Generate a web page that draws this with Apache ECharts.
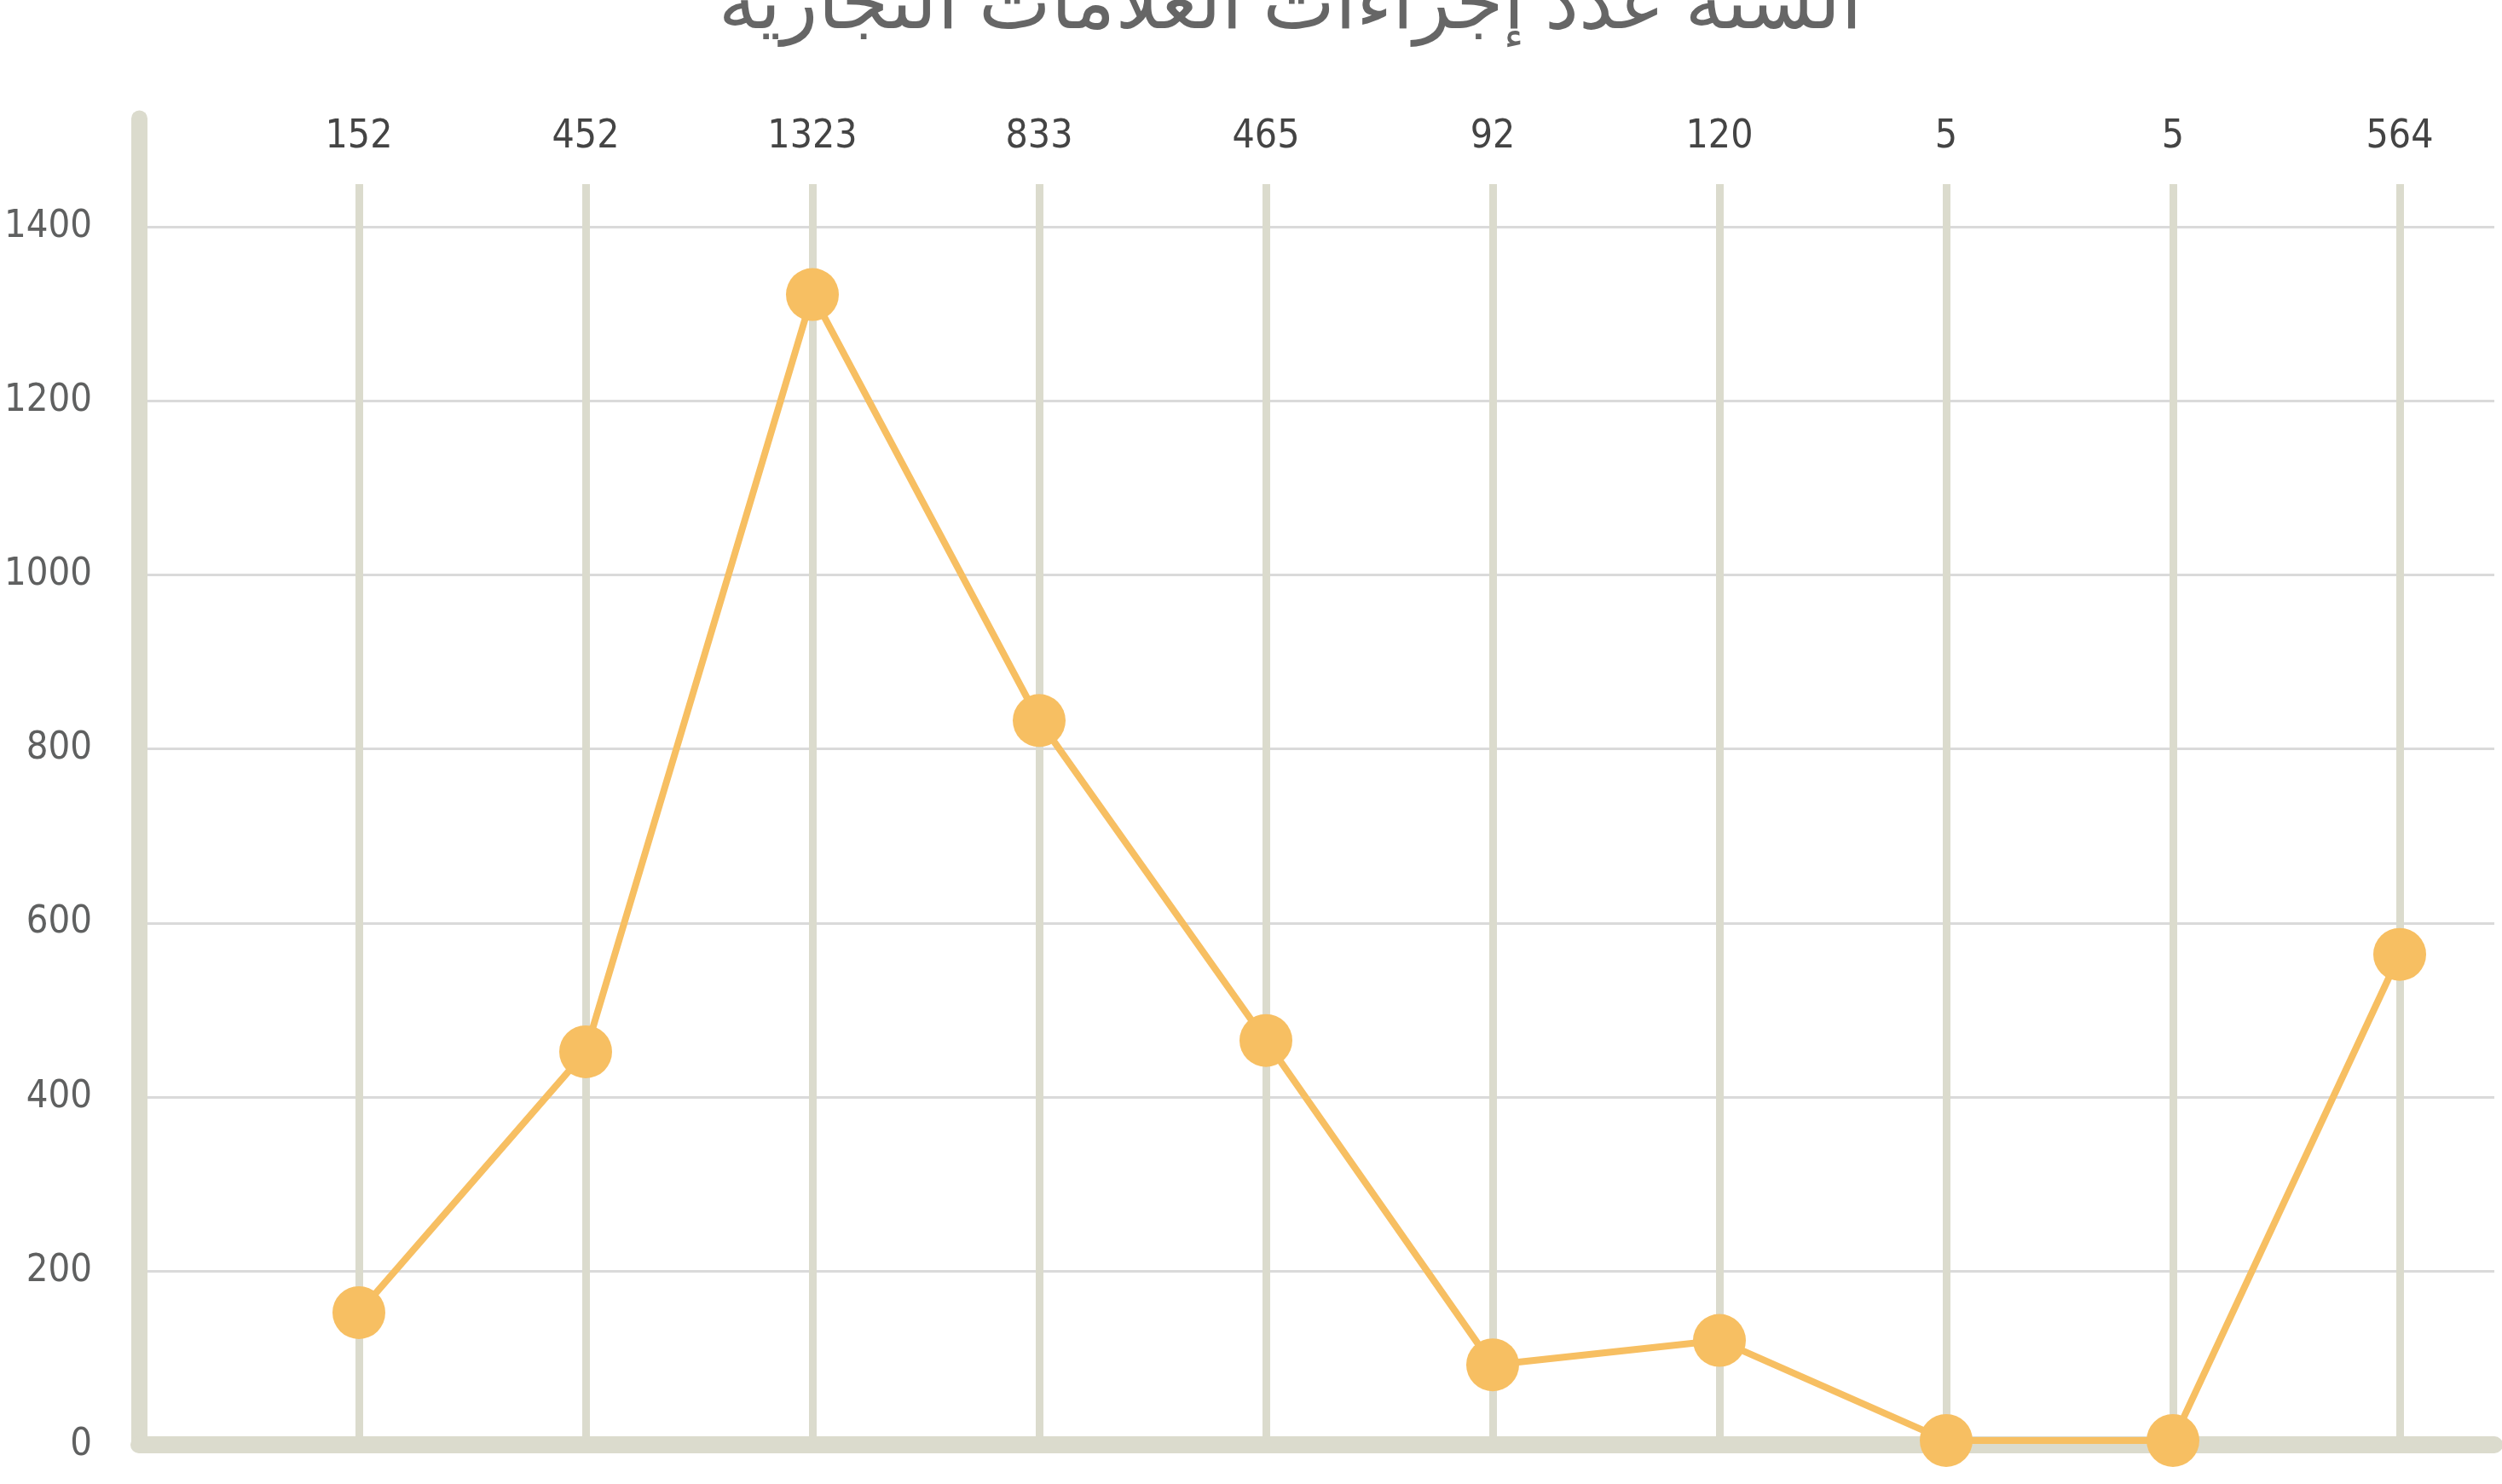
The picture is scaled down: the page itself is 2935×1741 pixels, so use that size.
<!DOCTYPE html>
<html>
<head>
<meta charset="utf-8">
<script src="https://cdn.jsdelivr.net/npm/echarts@6/dist/echarts.min.js"></script>
<style>
html,body{margin:0;padding:0;background:#fff;}
#chart{width:2935px;height:1741px;}
</style>
</head>
<body>
<div id="chart"></div>
<script>
// ---- data ----
const titleText = 'السنة عدد إجراءات العلامات التجارية';
const topLabels = ['152', '452', '1323', '833', '465', '92', '120', '5', '5', '564'];
const values = [152, 452, 1323, 833, 465, 92, 120, 5, 5, 564];
const yTicks = [0, 200, 400, 600, 800, 1000, 1200, 1400];

// ---- styles ----
const frameColor = '#dbdbcd';
const gridColor = '#dadada';
const lineColor = '#f7bf62';
const numFont = '"DejaVu Sans Condensed", "Liberation Sans Narrow", Roboto, sans-serif';

const chart = echarts.init(document.getElementById('chart'));

const frameMax = 1525;
const plotMax = 1450;
const splitColors = yTicks.map(() => gridColor).concat(['rgba(0,0,0,0)']);

chart.setOption({
  backgroundColor: '#ffffff',
  animation: false,
  title: {
    text: titleText,
    left: '51.4%',
    textAlign: 'center',
    top: -43,
    textStyle: {
      fontFamily: '"Noto Sans", "DejaVu Sans", sans-serif',
      fontSize: 90,
      fontWeight: 'normal',
      color: '#666666'
    }
  },
  grid: [
    { left: 421, width: 2394, top: 216, bottom: 46 },
    { left: 163, right: 9, top: 139, bottom: 46 }
  ],
  xAxis: [
    {
      gridIndex: 0,
      type: 'category',
      position: 'top',
      data: topLabels,
      boundaryGap: false,
      z: 1,
      axisLine: { show: false },
      axisTick: { show: false },
      axisLabel: {
        interval: 0,
        margin: 32,
        fontFamily: numFont,
        fontSize: 46,
        color: '#444444'
      },
      splitLine: { show: true, interval: 0, lineStyle: { color: frameColor, width: 9 } }
    },
    {
      gridIndex: 1,
      type: 'category',
      data: topLabels,
      z: 3,
      axisLine: { show: true, lineStyle: { color: frameColor, width: 20, cap: 'round' } },
      axisTick: { show: false },
      axisLabel: { show: false },
      splitLine: { show: false }
    }
  ],
  yAxis: [
    {
      gridIndex: 0,
      type: 'value',
      min: 0,
      max: plotMax,
      show: false,
      splitLine: { show: false }
    },
    {
      gridIndex: 1,
      type: 'value',
      min: 0,
      max: frameMax,
      interval: 200,
      z: 0,
      axisLine: { show: true, lineStyle: { color: frameColor, width: 19, cap: 'round' } },
      axisTick: { show: false },
      axisLabel: {
        margin: 55,
        showMaxLabel: false,
        fontFamily: numFont,
        fontSize: 45,
        color: '#5f6060',
        formatter: function (v) { return yTicks.indexOf(v) >= 0 ? String(v) : ''; }
      },
      splitLine: { show: true, lineStyle: { color: splitColors, width: 3 } }
    }
  ],
  series: [
    {
      type: 'line',
      xAxisIndex: 0,
      yAxisIndex: 0,
      data: values,
      z: 5,
      symbol: 'circle',
      symbolSize: 62,
      showAllSymbol: true,
      lineStyle: { color: lineColor, width: 8 },
      itemStyle: { color: lineColor },
      label: { show: false }
    }
  ]
});
</script>
</body>
</html>
